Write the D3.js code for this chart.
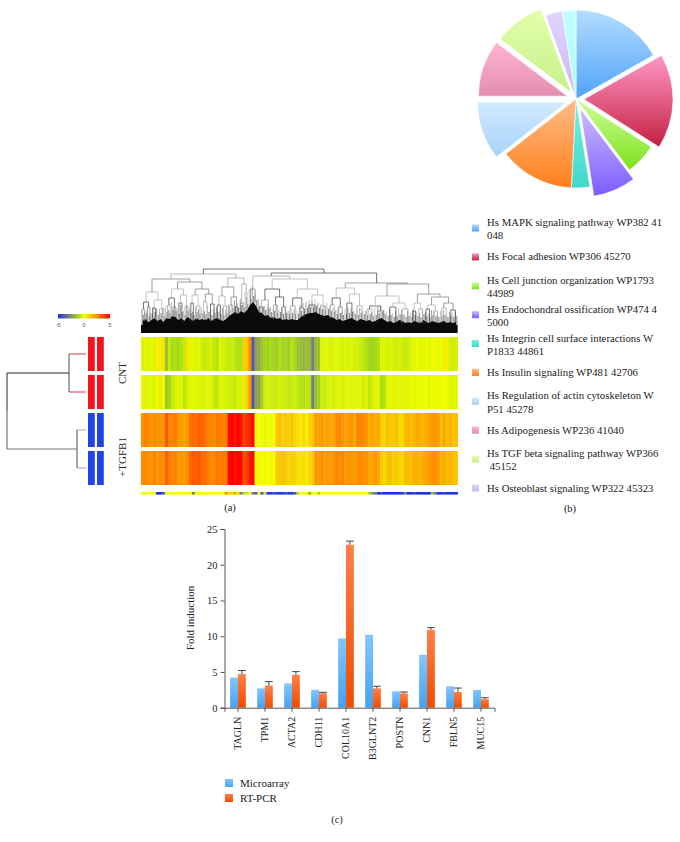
<!DOCTYPE html>
<html>
<head>
<meta charset="utf-8">
<title>Microarray figure</title>
<script src="https://cdn.jsdelivr.net/npm/d3@7"></script>
<style>
  html, body { margin: 0; padding: 0; background: #fff; }
  text { font-family: "Liberation Serif", serif; fill: #222; }
</style>
</head>
<body>
<div id="chart"></div>
<script>
// (b) pie
const pieValues = [60.5, 62, 20.5, 28, 12, 49, 38, 37, 33, 11, 9];
const pieColors = [
  ["#b4dcff", "#4fa3fa"], ["#ff98c8", "#c42040"], ["#ccff98", "#7fe01c"],
  ["#cbbcff", "#7c5cff"], ["#74f0e4", "#40d8cc"], ["#ffbc88", "#ff7f1c"],
  ["#d2e9ff", "#a6d3fa"], ["#ffb4d2", "#e48eae"], ["#e2ffaa", "#c6f08c"],
  ["#e2d4ff", "#c8b8f0"], ["#c4ffff", "#a8f8f8"],
];
const pieLegend = [
  ["Hs MAPK signaling pathway WP382 41", "048"],
  ["Hs Focal adhesion WP306 45270"],
  ["Hs Cell junction organization WP1793", "44989"],
  ["Hs Endochondral ossification WP474 4", "5000"],
  ["Hs Integrin cell surface interactions W", "P1833 44861"],
  ["Hs Insulin signaling WP481 42706"],
  ["Hs Regulation of actin cytoskeleton W", "P51 45278"],
  ["Hs Adipogenesis WP236 41040"],
  ["Hs TGF beta signaling pathway WP366", " 45152"],
  ["Hs Osteoblast signaling WP322 45323"],
];

// (a) heatmap columns, read left to right
const cntA = [-.3,-.25,-.3,-.2,-.3,.3,.4,.5,-1.6,-.6,-1,-.9,-1.1,-.8,-.6,.6,-.2,-.2,-.3,-.2,-.5,-.6,-.5,-.4,-.7,-.8,-.3,-.4,-.5,-.6,-.5,-.7,-.9,-.9,1,1.2,
  2.6,-4,-2.2,-2,-1.5,-1.1,-1.3,-1,-1.2,-1.3,-.9,-1.2,-1.1,-1.3,-.8,-1.1,-1.5,-1.6,-1.8,-1.6,-1.8,-3,-1.7,-1.5,-.3,-.3,-.2,-.4,-.3,-.2,-.3,-.4,-.3,-.4,-.3,-.4,
  -.4,-.5,-.7,-.9,-1.1,-1.2,-1,-.9,-.3,-.3,-.4,-.3,-.4,-.5,-.4,-.5,-.6,-.5,-.3,-.2,-.1,-.3,-.2,-.1,-.2,-.1,-.1,-.2,-.1,.4,.3,-.4,-.5,-.4];
const cntB = [-.2,-.3,-.25,-.2,-.3,.2,.5,.1,-1.4,-1,-.6,-.4,-.3,-.3,-.7,-.4,-.2,-.2,-.2,-.3,-.4,-.3,-.2,-.3,-.6,-.7,-.3,-.3,-.4,-.4,-.5,-.6,-.3,-.4,.5,1,
  2.4,-4,-2.2,-2.1,-1.2,-.5,-.4,-.5,-.6,-.5,-.4,-.5,-.5,-.7,-.6,-.5,-.7,-.9,-.8,-.7,-.8,-3,-1.6,-1.2,-.5,-.6,-.4,-.3,-.5,-.3,-.3,-.4,-.3,-.2,-.3,-.3,
  -.2,-.3,-.5,-.3,-.7,-.4,-.2,-.3,-.9,-.8,-.3,-.2,-.3,-.2,-.2,-.3,-.2,-.2,-.1,-.2,-.1,-.1,-.1,-.1,-.2,-.1,-.1,-.1,-.1,0,-.1,-.3,-.3,-.2];
const tgfA = [2.4,2.7,2.5,2.2,2.5,2.3,2.4,2.2,3.5,2.7,2.6,2.8,2.3,2.2,2,2.2,3,3.2,3,3.3,3.2,3,2.7,2.6,2.5,2.9,2.8,2.7,2.7,4.8,5,4.6,5,4.7,3.8,4.2,
  4.5,5,-.2,0,-.1,-.2,-.1,.1,0,1.2,1.4,1,1.3,1,1.3,.9,.8,.4,.9,.4,1,1.2,2.2,2,2.3,1.9,2.1,1.9,2,2.5,2.6,2.4,2,2.2,2.4,1.9,
  2.6,2.7,2.5,2.3,1.8,2,1.7,1.9,1,.9,1.4,1.2,1.1,1.4,.8,.7,1.5,1.6,1.3,1.6,1.9,1.7,1.6,1.9,2,2.2,2.3,2.1,1.3,2,1.4,1.7,1.2,1.4];
const tgfB = [2.5,2.6,2.4,2.3,2.6,2.2,2.5,2.3,3.3,2.8,2.5,2.7,2.2,2.3,2.1,2.4,3.1,3.4,3.3,3.5,3,3,2.8,2.5,2.6,2.8,2.7,2.9,2.8,4.9,5,4.7,5,4.8,3.6,4,
  4.6,5,-.1,.1,0,-.1,0,.2,.1,1.1,1.2,1.3,1.2,.9,1.1,1,.7,.6,.8,.5,.9,1.1,2.4,2.2,2.5,2.1,2.3,2.2,2.4,2.7,2.5,2.6,2.2,2.4,2.3,2.1,
  2.4,2.6,2.3,2.4,2,1.9,2.2,2,1.2,.8,1.3,1.4,1,1.2,.9,.8,1.4,1.5,1.4,1.8,1.7,1.6,1.8,2,2.1,2.4,2.5,2.2,1.5,1.8,1.5,1.6,1.4,1.2];
const stripRow = [0,0,0,0,0,-5,-5,-4,0,0,0,0,0,0,0,0,0,-3,0,0,0,0,0,0,0,0,0,0,2.5,1,1,2,.5,-3,-1,-.5,
  0,-3,-4,0,-4,-.5,-5,-5,-4.5,-5,-5,-5,-4.5,-5,-5,-4,-1,0,0,0,-2,0,0,-1,0,0,0,.2,0,0,0,0,0,0,0,0,
  0,0,0,0,-1,-2.5,-3,-5,-4.5,-5,-5,-5,-5,-5,-5,-4.5,-3,-5,-5,-4.5,-5,-5,-5,-5,-5,-1.5,-3,-5,-5,-4.5,-5,-5,-5,-5];

// column dendrogram: [height, left, right], ends are [height, leaf count]
const columnTree = [64,
  [59,
    [54,
      [41, [31, [24, 5], [26, 5]], [33, [25, 6], [24, 9]]],
      [51,
        [44, [35, [28, 5], [26, 6]], [38, [30, 6], [27, 6]]],
        [44, [38, [30, 5], [27, 7]], [39, [31, 7], [29, 7]]]]],
    [55,
      [46, [37, [28, 6], [27, 6]], [36, [28, 6], [26, 5]]],
      [49, [30, 5], [40, 4]]]],
  [60,
    [57,
      [44, 9],
      [54,
        [44, [33, [26, 8], [24, 6]], [36, [28, 8], [26, 8]]],
        [44, [35, [27, 10], [25, 8]], [38, [28, 12], [27, 10]]]]],
    [50,
      [45, [35, [28, 8], [26, 8]], [39, [30, 10], [27, 10]]],
      [49,
        [37, [27, [24, 10], [22, 12]], [30, [26, 12], [24, 12]]],
        [39, [30, [22, 6], [24, 7]], [36, [28, [24, 7], [22, 8]], [30, [25, 9], [23, 9]]]]]]]];
const skyline = [12,14,11,13,15,12,14,11,15,14,17,16,13,15,12,16,14,12,15,13,14,13,15,12,14,15,13,12,14,17,19,21,19,22,20,23,28,31,27,21,20,17,18,
  15,16,14,15,13,14,13,14,13,13,16,18,19,20,20,21,19,18,17,18,16,15,13,14,12,13,14,15,13,12,14,13,12,13,11,12,14,15,13,11,12,10,11,13,12,10,11,10,12,11,10,13,11,10,12,11,10,11,12,10,11,10,11];
const fringe = [24,22,25,20,26,24,21,25,27,23,30,26,24,28,22,27,25,21,26,24,25,22,27,23,24,26,22,25,23,28,29,33,30,34,31,36,44,46,40,34,30,27,29,
  26,24,28,23,25,27,22,25,24,23,28,30,31,33,32,34,30,29,28,30,27,25,23,25,21,24,26,25,22,24,25,23,22,24,21,25,26,27,23,21,24,20,22,25,23,19,22,20,24,21,20,24,21,20,23,21,19,22,23,20,21,20,21];

// row dendrogram heights and the colour bar ticks
const rowHeights = { root: 79, cnt: 17, tgf: 9 };
const colorTicks = [-5, 0, 5];

// (c) bars
const genes = ["TAGLN", "TPM1", "ACTA2", "CDH11", "COL10A1", "B3GLNT2", "POSTN", "CNN1", "FBLN5", "MUC15"];
const microarray = [4.2, 2.7, 3.4, 2.5, 9.7, 10.2, 2.3, 7.4, 3.0, 2.5];
const rtPcr = [4.7, 3.1, 4.6, 2.0, 22.8, 2.7, 2.0, 10.9, 2.2, 1.2];
const rtPcrErr = [0.5, 0.55, 0.45, 0.15, 0.5, 0.3, 0.2, 0.3, 0.55, 0.2];
const foldTicks = [0, 5, 10, 15, 20, 25];

const svg = d3
  .select("#chart")
  .append("svg")
  .attr("width", 680)
  .attr("height", 842);
const defs = svg.append("defs");

function addGradient(id, top, bottom) {
  const g = defs
    .append("linearGradient")
    .attr("id", id)
    .attr("x1", "0%")
    .attr("y1", "0%")
    .attr("x2", "0%")
    .attr("y2", "100%");
  g.append("stop").attr("offset", "0%").attr("stop-color", top);
  g.append("stop").attr("offset", "100%").attr("stop-color", bottom);
}

// Heat colour scale
const heatColor = d3
  .scaleLinear()
  .domain([-5, -2.5, -1, 0, 2.5, 5])
  .range(["#1f35e0", "#8a8f66", "#a6dc14", "#f4ff00", "#ff8c00", "#ff0000"])
  .clamp(true);

function drawPie() {
  const cx = 576, cy = 99, radius = 89;
  const explode = [0, 8, 0, 10, 0, 0, 10, 9, 8, 0, 0];
  const arcs = d3.pie().sort(null)(pieValues);
  const arc = d3.arc().innerRadius(0).outerRadius(radius);
  pieColors.forEach((c, i) => addGradient("slice" + i, c[0], c[1]));

  svg
    .append("g")
    .selectAll("path")
    .data(arcs)
    .enter()
    .append("path")
    .attr("d", arc)
    .attr("fill", (d, i) => `url(#slice${i})`)
    .attr("stroke", "#fff")
    .attr("stroke-width", 0.6)
    .attr("transform", (d, i) => {
      const mid = (d.startAngle + d.endAngle) / 2;
      const dx = Math.sin(mid) * explode[i];
      const dy = -Math.cos(mid) * explode[i];
      return `translate(${cx + dx},${cy + dy})`;
    });

  // legend
  const rowY = d3.scaleLinear().domain([0, 9]).range([228, 488]);
  const items = svg
    .append("g")
    .selectAll("g")
    .data(pieLegend)
    .enter()
    .append("g")
    .attr("transform", (d, i) => `translate(0,${rowY(i)})`);
  items
    .append("rect")
    .attr("x", 472)
    .attr("y", -3.5)
    .attr("width", 7)
    .attr("height", 7)
    .attr("fill", (d, i) => `url(#slice${i})`);
  items.each(function (lines) {
    d3.select(this)
      .selectAll("text")
      .data(lines)
      .enter()
      .append("text")
      .attr("x", 487)
      .attr("y", (l, j) => (lines.length > 1 ? -2 + j * 13.3 : 3.6))
      .attr("font-size", 10.75)
      .attr("xml:space", "preserve")
      .text((l) => l);
  });
}

function drawHeatmap() {
  const rows = [cntA, cntB, tgfA, tgfB];
  const left = 141, right = 457.6;
  const y = d3.scaleBand().domain(d3.range(4)).range([337, 485]).paddingInner(0.105);

  rows.forEach((row, r) => {
    const x = d3.scaleBand().domain(d3.range(row.length)).range([left, right]);
    svg
      .append("g")
      .selectAll("rect")
      .data(row)
      .enter()
      .append("rect")
      .attr("x", (d, i) => x(i))
      .attr("y", y(r))
      .attr("width", x.bandwidth() + 0.4)
      .attr("height", y.bandwidth())
      .attr("fill", (d) => heatColor(d));
  });

  const sx = d3.scaleBand().domain(d3.range(stripRow.length)).range([left, right]);
  svg
    .append("g")
    .selectAll("rect")
    .data(stripRow)
    .enter()
    .append("rect")
    .attr("x", (d, i) => sx(i))
    .attr("y", 492)
    .attr("width", sx.bandwidth() + 0.3)
    .attr("height", 2.6)
    .attr("fill", (d) => heatColor(d));

  // colour key
  const keyX = d3.scaleLinear().domain([-5, 5]).range([58, 110]);
  const stops = defs.append("linearGradient").attr("id", "heatKey");
  d3.range(-5, 5.5, 0.5).forEach((v) => {
    stops
      .append("stop")
      .attr("offset", ((v + 5) / 10) * 100 + "%")
      .attr("stop-color", heatColor(v));
  });
  svg
    .append("rect")
    .attr("x", keyX(-5))
    .attr("y", 314)
    .attr("width", keyX(5) - keyX(-5))
    .attr("height", 4.5)
    .attr("fill", "url(#heatKey)");
  svg
    .append("g")
    .selectAll("text")
    .data(colorTicks)
    .enter()
    .append("text")
    .attr("x", (d) => keyX(d))
    .attr("y", 327)
    .attr("text-anchor", "middle")
    .attr("font-size", 6)
    .style("font-family", "Liberation Sans, sans-serif")
    .style("fill", "#666")
    .text((d) => d);

  // sample blocks next to the heatmap
  [88, 97].forEach((bx) => {
    svg
      .append("g")
      .selectAll("rect")
      .data(d3.range(4))
      .enter()
      .append("rect")
      .attr("x", bx)
      .attr("y", (d) => y(d))
      .attr("width", 6.8)
      .attr("height", y.bandwidth())
      .attr("fill", (d) => (d < 2 ? "#f5141e" : "#2244e6"));
  });

  // row dendrogram
  const hx = d3.scaleLinear().domain([0, rowHeights.root]).range([86, 7]);
  const mid = (r) => y(r) + y.bandwidth() / 2;
  const cntY = (mid(0) + mid(1)) / 2;
  const tgfY = (mid(2) + mid(3)) / 2;
  const line = (x1, y1, x2, y2, color, w) =>
    svg
      .append("line")
      .attr("x1", x1)
      .attr("y1", y1)
      .attr("x2", x2)
      .attr("y2", y2)
      .attr("stroke", color)
      .attr("stroke-width", w);

  [0, 1].forEach((r) => line(hx(0), mid(r), hx(rowHeights.cnt), mid(r), "#d0262c", 0.9));
  [2, 3].forEach((r) => line(hx(0), mid(r), hx(rowHeights.tgf), mid(r), "#8f95d8", 0.9));
  line(hx(rowHeights.cnt), mid(0), hx(rowHeights.cnt), mid(1), "#222", 0.8);
  line(hx(rowHeights.tgf), mid(2), hx(rowHeights.tgf), mid(3), "#222", 0.8);
  line(hx(rowHeights.root), cntY, hx(rowHeights.cnt), cntY, "#111", 0.9);
  line(hx(rowHeights.root), tgfY, hx(rowHeights.tgf), tgfY, "#777", 1.2);
  line(hx(rowHeights.root), cntY, hx(rowHeights.root), (cntY + tgfY) / 2, "#111", 0.9);
  line(hx(rowHeights.root), (cntY + tgfY) / 2, hx(rowHeights.root), tgfY, "#777", 1.2);

  svg
    .append("text")
    .attr("transform", "translate(126,373) rotate(-90)")
    .attr("text-anchor", "middle")
    .attr("font-size", 11)
    .text("CNT");
  svg
    .append("text")
    .attr("transform", "translate(126,457) rotate(-90)")
    .attr("text-anchor", "middle")
    .attr("font-size", 11)
    .text("+TGFB1");
}

function drawColumnTree() {
  const left = 141, right = 457.6, base = 333;
  const yh = d3.scaleLinear().domain([0, 64]).range([base, 269]);
  const g = svg.append("g").attr("fill", "none");

  // black band and the grey fringe above it, one value per column
  const sx = d3.scaleBand().domain(d3.range(skyline.length)).range([left, right]);
  g.selectAll(".stem")
    .data(fringe)
    .enter()
    .append("line")
    .attr("class", "stem")
    .attr("x1", (d, i) => sx(i) + sx.bandwidth() * 0.25)
    .attr("x2", (d, i) => sx(i) + sx.bandwidth() * 0.25)
    .attr("y1", base)
    .attr("y2", (d) => yh(d))
    .attr("stroke", (d, i) => (i % 2 ? "#777" : "#aaa"))
    .attr("stroke-width", 0.7);
  // shorter stems between the long ones
  g.selectAll(".stem2")
    .data(skyline)
    .enter()
    .append("line")
    .attr("class", "stem2")
    .attr("x1", (d, i) => sx(i) + sx.bandwidth() * 0.75)
    .attr("x2", (d, i) => sx(i) + sx.bandwidth() * 0.75)
    .attr("y1", base)
    .attr("y2", (d) => yh(d + 6))
    .attr("stroke", "#444")
    .attr("stroke-width", 0.7);

  const area = d3
    .area()
    .x((d, i) => sx(i) + sx.bandwidth() / 2)
    .y0(base)
    .y1((d) => yh(d))
    .curve(d3.curveLinear);
  g.append("path")
    .attr("d", area(skyline))
    .attr("fill", "#0a0a0a");
  g.append("rect")
    .attr("x", left)
    .attr("y", base - 8)
    .attr("width", right - left)
    .attr("height", 8)
    .attr("fill", "#0a0a0a");

  // work out leaf spans, then draw every merge
  function leafCount(n) {
    return typeof n[1] === "number" ? n[1] : leafCount(n[1]) + leafCount(n[2]);
  }
  const x = d3.scaleLinear().domain([0, leafCount(columnTree)]).range([left, right]);
  let cursor = 0, linkIndex = 0;
  const tones = ["#3a3a3a", "#9a9a9a", "#777", "#aaa"];

  function seg(x1, y1, x2, y2, tone) {
    g.append("line")
      .attr("x1", x1)
      .attr("y1", y1)
      .attr("x2", x2)
      .attr("y2", y2)
      .attr("stroke", tone)
      .attr("stroke-width", 0.7);
  }

  function layout(n) {
    const tone = tones[linkIndex++ % tones.length];
    if (typeof n[1] === "number") {
      const a = x(cursor + n[1] * 0.25);
      const b = x(cursor + n[1] * 0.75);
      const h = yh(n[0]);
      const col = Math.floor(((cursor + n[1] / 2) / leafCount(columnTree)) * skyline.length);
      seg(a, h, b, h, tone);
      seg(a, h, a, yh(skyline[col]), tone);
      seg(b, h, b, yh(skyline[col]), tone);
      cursor += n[1];
      return { x: (a + b) / 2, h: n[0] };
    }
    const l = layout(n[1]);
    const r = layout(n[2]);
    const h = yh(n[0]);
    seg(l.x, h, r.x, h, tone);
    seg(l.x, h, l.x, yh(l.h), tone);
    seg(r.x, h, r.x, yh(r.h), tone);
    return { x: (l.x + r.x) / 2, h: n[0] };
  }
  layout(columnTree);
}

function drawBars() {
  addGradient("barBlue", "#82c6ff", "#45a2f2");
  addGradient("barOrange", "#ff8048", "#f04c00");

  const x0 = d3
    .scaleBand()
    .domain(genes)
    .range([224.5, 494.5])
    .paddingInner(0.42)
    .paddingOuter(0.21);
  const y = d3.scaleLinear().domain([0, 25]).range([707.7, 529]);
  const barW = x0.bandwidth() / 2;

  svg
    .append("g")
    .selectAll("rect")
    .data(microarray)
    .enter()
    .append("rect")
    .attr("x", (d, i) => x0(genes[i]))
    .attr("y", (d) => y(d))
    .attr("width", barW)
    .attr("height", (d) => y(0) - y(d))
    .attr("fill", "url(#barBlue)");

  svg
    .append("g")
    .selectAll("rect")
    .data(rtPcr)
    .enter()
    .append("rect")
    .attr("x", (d, i) => x0(genes[i]) + barW)
    .attr("y", (d) => y(d))
    .attr("width", barW)
    .attr("height", (d) => y(0) - y(d))
    .attr("fill", "url(#barOrange)");

  // error bars
  const errG = svg.append("g").attr("stroke", "#333").attr("stroke-width", 0.9);
  rtPcr.forEach((v, i) => {
    const cx = x0(genes[i]) + barW * 1.5;
    errG
      .append("line")
      .attr("x1", cx)
      .attr("x2", cx)
      .attr("y1", y(v))
      .attr("y2", y(v + rtPcrErr[i]));
    errG
      .append("line")
      .attr("x1", cx - barW / 2)
      .attr("x2", cx + barW / 2)
      .attr("y1", y(v + rtPcrErr[i]))
      .attr("y2", y(v + rtPcrErr[i]));
  });

  const yAxis = svg
    .append("g")
    .attr("transform", "translate(224.5,0)")
    .call(d3.axisLeft(y).tickValues(foldTicks).tickSize(4).tickPadding(3));
  const xAxis = svg
    .append("g")
    .attr("transform", `translate(0,${y(0)})`)
    .call(d3.axisBottom(x0).tickSize(4).tickPadding(2));
  [yAxis, xAxis].forEach((a) => {
    a.selectAll("path, line").attr("stroke", "#444").attr("stroke-width", 0.9);
    a.selectAll("text").attr("font-size", 10).style("font-family", "Liberation Serif, serif");
  });
  yAxis.selectAll("text").attr("font-size", 10.5);
  xAxis
    .selectAll("text")
    .attr("transform", "rotate(-90)")
    .attr("text-anchor", "end")
    .attr("x", -9)
    .attr("y", 0)
    .attr("dy", "0.33em");

  svg
    .append("text")
    .attr("transform", "translate(194,618) rotate(-90)")
    .attr("text-anchor", "middle")
    .attr("font-size", 11)
    .text("Fold induction");

  // legend
  const names = ["Microarray", "RT-PCR"];
  const fills = ["url(#barBlue)", "url(#barOrange)"];
  const rowY = d3.scalePoint().domain(names).range([783, 798]);
  names.forEach((name, i) => {
    svg
      .append("rect")
      .attr("x", 225)
      .attr("y", rowY(name) - 4)
      .attr("width", 8)
      .attr("height", 8)
      .attr("fill", fills[i]);
    svg
      .append("text")
      .attr("x", 240)
      .attr("y", rowY(name) + 3.5)
      .attr("font-size", 11)
      .text(name);
  });
}

function drawPanelLabels() {
  const labels = [
    { t: "(a)", x: 230, y: 511 },
    { t: "(b)", x: 570, y: 512 },
    { t: "(c)", x: 337, y: 823 },
  ];
  svg
    .append("g")
    .selectAll("text")
    .data(labels)
    .enter()
    .append("text")
    .attr("x", (d) => d.x)
    .attr("y", (d) => d.y)
    .attr("text-anchor", "middle")
    .attr("font-size", 10.5)
    .text((d) => d.t);
}

drawPie();
drawColumnTree();
drawHeatmap();
drawBars();
drawPanelLabels();
</script>
</body>
</html>
